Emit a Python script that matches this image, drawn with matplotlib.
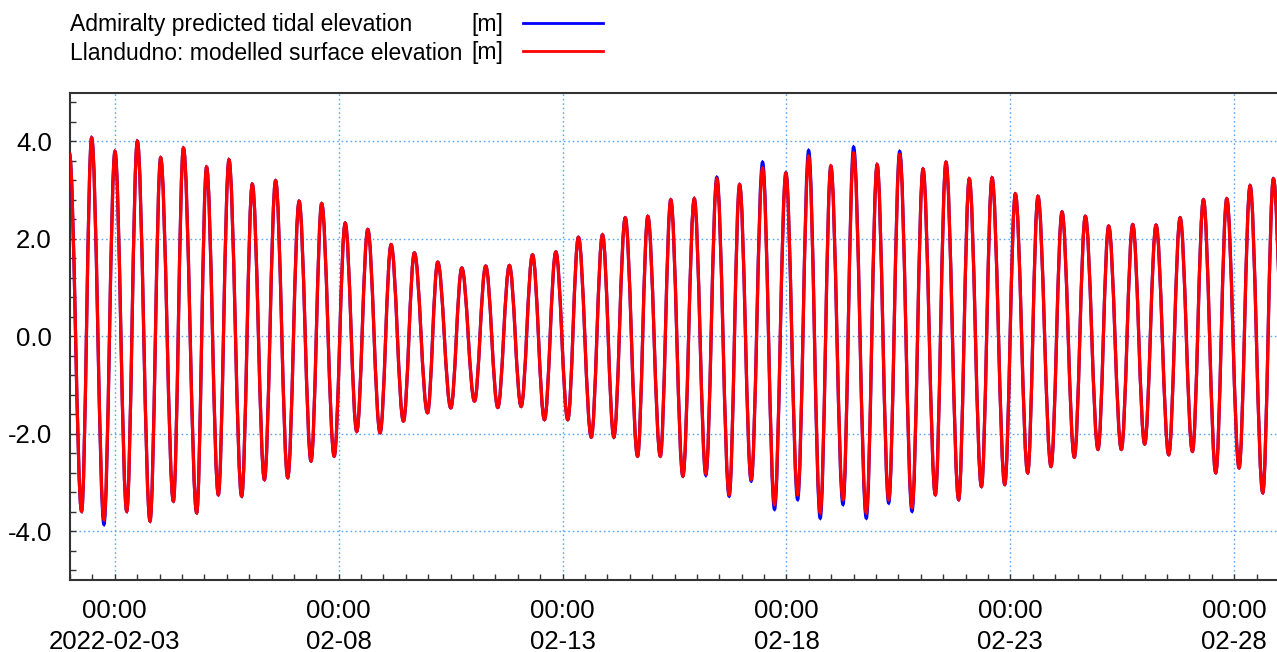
import numpy as np
import matplotlib
matplotlib.use('Agg')
import matplotlib.pyplot as plt
import matplotlib.dates as mdates
from matplotlib.path import Path
from matplotlib.patches import PathPatch
from matplotlib.lines import Line2D
from matplotlib.ticker import MultipleLocator, FixedLocator

plt.rcParams['font.family'] = ['Liberation Sans', 'DejaVu Sans']

# High / low water turning points, hours after 2022-02-02 00:00
start = np.datetime64('2022-02-02T00:00')
turn_hours = [
    -0.3, 6.2, 11.6, 18.2, 24.1, 30.4, 36.1, 42.9, 48.6, 55.4,
    60.8, 67.9, 73.2, 79.5, 85.2, 92.0, 97.7, 104.2, 110.2, 116.7,
    122.8, 129.2, 134.9, 141.6, 147.5, 153.7, 159.6, 166.2, 172.1, 178.7,
    184.6, 191.6, 197.1, 204.1, 210.0, 216.8, 222.8, 229.3, 235.5, 241.8,
    247.9, 254.3, 260.4, 266.8, 272.5, 279.4, 285.4, 291.5, 297.6, 304.2,
    309.7, 316.4, 322.0, 328.5, 334.6, 340.8, 346.7, 353.3, 358.9, 365.1,
    371.2, 377.6, 383.7, 390.0, 395.9, 402.1, 407.8, 414.3, 420.0, 426.8,
    432.6, 438.8, 444.7, 451.3, 457.2, 463.8, 469.5, 476.3, 482.0, 488.5,
    494.2, 501.0, 506.7, 513.3, 518.8, 525.8, 531.7, 538.3, 544.2, 551.0,
    556.7, 563.5, 569.6, 576.0, 582.1, 588.9, 595.0, 601.6, 607.5, 614.1,
    620.0, 626.6, 632.5, 639.3, 645.0, 652.5,
]

# Llandudno model output [m]
modelled_m = [
    3.75, -3.59, 4.07, -3.76, 3.79, -3.59, 4.00, -3.79, 3.66, -3.38,
    3.86, -3.62, 3.47, -3.25, 3.62, -3.28, 3.12, -2.94, 3.19, -2.90,
    2.77, -2.56, 2.72, -2.46, 2.32, -1.95, 2.19, -1.98, 1.88, -1.74,
    1.71, -1.57, 1.52, -1.47, 1.40, -1.33, 1.44, -1.46, 1.45, -1.44,
    1.67, -1.71, 1.73, -1.71, 2.03, -2.07, 2.08, -2.07, 2.43, -2.46,
    2.46, -2.46, 2.80, -2.87, 2.82, -2.82, 3.23, -3.25, 3.11, -2.94,
    3.45, -3.45, 3.35, -3.25, 3.69, -3.62, 3.49, -3.35, 3.76, -3.62,
    3.52, -3.35, 3.73, -3.51, 3.43, -3.25, 3.57, -3.35, 3.23, -3.08,
    3.25, -3.04, 2.92, -2.80, 2.87, -2.67, 2.55, -2.48, 2.46, -2.32,
    2.26, -2.32, 2.29, -2.21, 2.28, -2.43, 2.43, -2.36, 2.80, -2.80,
    2.82, -2.70, 3.09, -3.21, 3.23, -3.20,
]

# Admiralty tidal prediction [m]
admiralty_m = [
    3.75, -3.59, 4.07, -3.86, 3.79, -3.59, 4.00, -3.79, 3.66, -3.38,
    3.86, -3.62, 3.47, -3.25, 3.62, -3.28, 3.12, -2.94, 3.19, -2.90,
    2.77, -2.56, 2.72, -2.46, 2.32, -1.95, 2.19, -1.98, 1.88, -1.74,
    1.71, -1.57, 1.52, -1.47, 1.40, -1.33, 1.44, -1.46, 1.45, -1.44,
    1.67, -1.71, 1.73, -1.71, 2.03, -2.07, 2.08, -2.07, 2.43, -2.46,
    2.46, -2.46, 2.80, -2.87, 2.82, -2.85, 3.26, -3.28, 3.11, -2.97,
    3.57, -3.55, 3.35, -3.35, 3.81, -3.73, 3.49, -3.45, 3.88, -3.73,
    3.52, -3.42, 3.79, -3.59, 3.43, -3.25, 3.57, -3.35, 3.23, -3.08,
    3.25, -3.04, 2.92, -2.80, 2.87, -2.67, 2.55, -2.48, 2.46, -2.32,
    2.26, -2.32, 2.29, -2.21, 2.28, -2.43, 2.43, -2.36, 2.80, -2.80,
    2.82, -2.70, 3.09, -3.21, 3.23, -3.20,
]

major_days = ['2022-02-03', '2022-02-08', '2022-02-13', '2022-02-18', '2022-02-23', '2022-02-28']
major_labels = ['00:00\n2022-02-03', '00:00\n02-08', '00:00\n02-13',
                '00:00\n02-18', '00:00\n02-23', '00:00\n02-28']
y_major = [-4.0, -2.0, 0.0, 2.0, 4.0]


def tide_path(hours, levels, k=0.364):
    # cubic Bezier between successive high/low waters (close to a half cosine)
    x = mdates.date2num(start) + np.asarray(hours) / 24.0
    y = np.asarray(levels)
    verts = [(x[0], y[0])]
    codes = [Path.MOVETO]
    for i in range(1, len(x)):
        dx = x[i] - x[i - 1]
        verts += [(x[i - 1] + k * dx, y[i - 1]), (x[i] - k * dx, y[i]), (x[i], y[i])]
        codes += [Path.CURVE4] * 3
    return Path(verts, codes)


W, H = 1277, 652
fig = plt.figure(figsize=(W / 100, H / 100), dpi=100)
ax = fig.add_axes([70 / W, 1 - 580 / H, 1209 / W, 487.5 / H])

blue = '#0000ff'
red = '#ff0000'
ax.add_patch(PathPatch(tide_path(turn_hours, admiralty_m), fill=False,
                       edgecolor=blue, lw=2.3, zorder=3))
ax.add_patch(PathPatch(tide_path(turn_hours, modelled_m), fill=False,
                       edgecolor=red, lw=2.3, zorder=4))

ax.set_xlim(mdates.date2num(np.datetime64('2022-02-02T00:00')),
            mdates.date2num(np.datetime64('2022-03-01T00:00')))
ax.set_ylim(-5, 5)

ax.xaxis.set_major_locator(FixedLocator(mdates.date2num(np.array(major_days, dtype='datetime64[m]'))))
ax.set_xticklabels(major_labels)
ax.xaxis.set_minor_locator(mdates.HourLocator(byhour=[0, 12]))
ax.set_yticks(y_major)
ax.set_yticklabels(['%.1f' % v for v in y_major])
ax.yaxis.set_minor_locator(MultipleLocator(0.4))

ax.tick_params(axis='both', which='both', direction='in', length=4,
               color='#333333', width=1, labelsize=18.5)
ax.tick_params(axis='x', which='major', pad=14)
ax.tick_params(axis='y', which='major', pad=13)
for lbl in ax.get_xticklabels():
    lbl.set_linespacing(1.35)

ax.grid(True, which='major', color='#5aa8f5', linestyle=(0, (1.2, 2)), lw=1)
ax.set_axisbelow(True)
for s in ax.spines.values():
    s.set_color('#333333')
    s.set_linewidth(1.5)

# legend: name, unit column, line sample
legend_rows = [('Admiralty predicted tidal elevation', blue),
               ('Llandudno: modelled surface elevation', red)]
for i, (name, col) in enumerate(legend_rows):
    yy = 1 - (23 + 28 * i) / H
    fig.text(70 / W, yy - 2 / H, name, fontsize=16.5, va='center', ha='left')
    fig.text(503 / W, yy - 2 / H, '[m]', fontsize=16.5, va='center', ha='right')
    fig.add_artist(Line2D([523 / W, 603 / W], [yy, yy], color=col, lw=2))

fig.savefig('out.png', dpi=100)
